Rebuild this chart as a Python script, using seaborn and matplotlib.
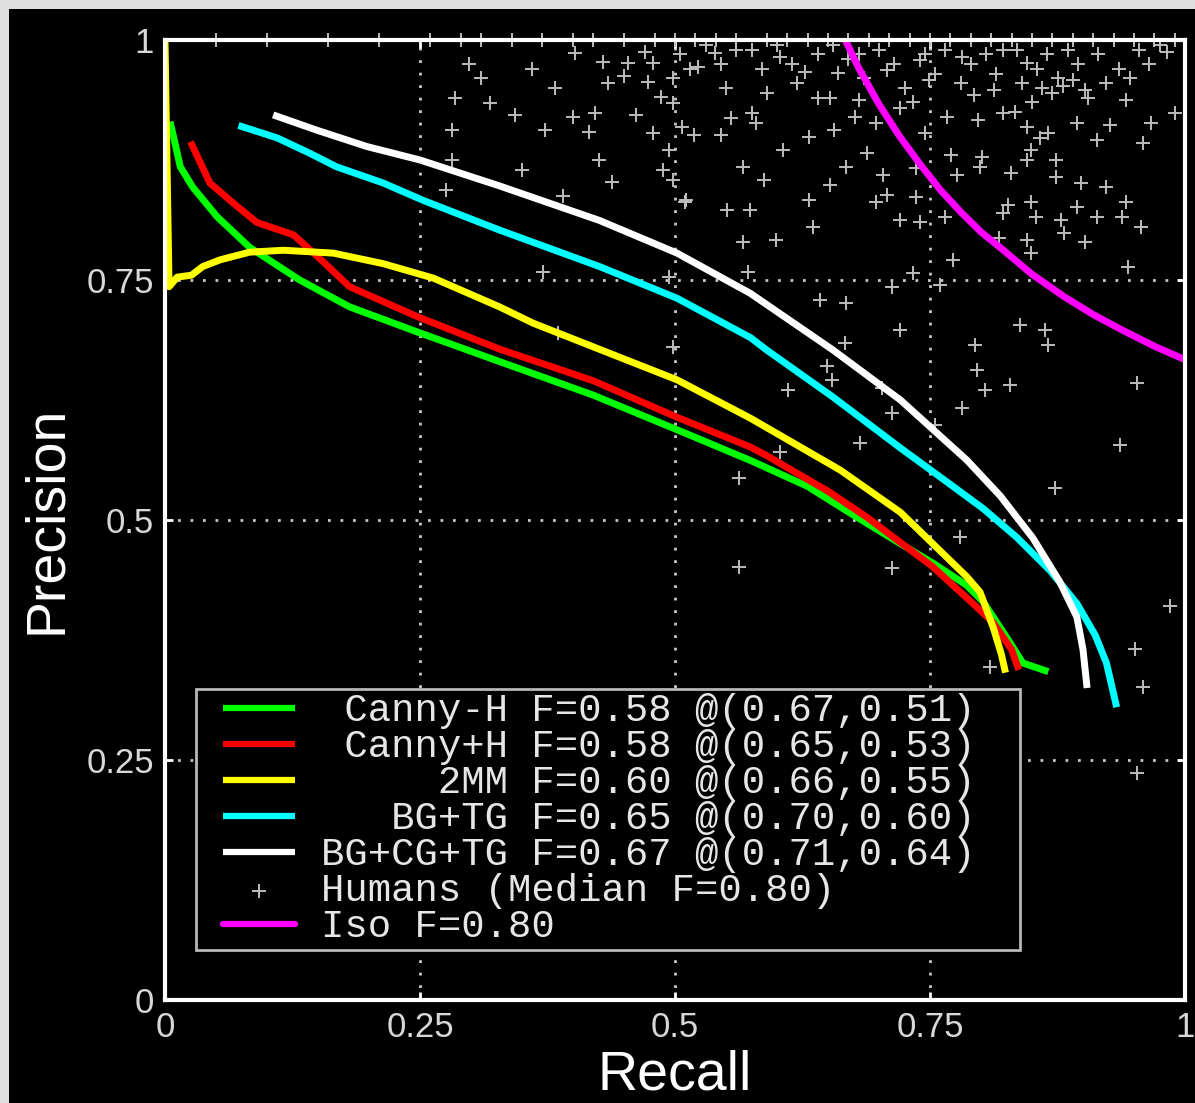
import numpy as np
import pandas as pd
import matplotlib
matplotlib.use("Agg")
import matplotlib.pyplot as plt
import seaborn as sns
from matplotlib.lines import Line2D
from matplotlib.legend_handler import HandlerLine2D
from matplotlib.patches import Rectangle

# ---------------- precision / recall curves ----------------
canny_nh_recall = [0.005, 0.015, 0.027, 0.051, 0.083, 0.132, 0.181, 0.247, 0.328, 0.420,
                   0.502, 0.574, 0.630, 0.672, 0.720, 0.753, 0.786, 0.802, 0.825, 0.841, 0.866]
canny_nh_precision = [0.915, 0.868, 0.847, 0.816, 0.784, 0.750, 0.722, 0.696, 0.665, 0.630,
                      0.594, 0.562, 0.535, 0.507, 0.476, 0.455, 0.432, 0.415, 0.378, 0.351, 0.342]

canny_h_recall = [0.025, 0.044, 0.067, 0.090, 0.126, 0.150, 0.181, 0.247, 0.328, 0.420,
                  0.502, 0.574, 0.590, 0.650, 0.688, 0.753, 0.792, 0.812, 0.830, 0.837]
canny_h_precision = [0.894, 0.851, 0.830, 0.810, 0.797, 0.774, 0.743, 0.712, 0.678, 0.645,
                     0.607, 0.576, 0.567, 0.530, 0.503, 0.451, 0.413, 0.393, 0.365, 0.344]

mm2_recall = [0.000, 0.004, 0.012, 0.026, 0.037, 0.054, 0.083, 0.116, 0.165, 0.214, 0.263,
              0.328, 0.361, 0.502, 0.574, 0.662, 0.721, 0.786, 0.799, 0.812, 0.820, 0.824]
mm2_precision = [1.000, 0.743, 0.753, 0.755, 0.764, 0.771, 0.779, 0.781, 0.778, 0.767, 0.752,
                 0.722, 0.705, 0.646, 0.606, 0.552, 0.508, 0.441, 0.425, 0.388, 0.360, 0.341]

bgtg_recall = [0.072, 0.110, 0.142, 0.168, 0.214, 0.253, 0.328, 0.426, 0.502, 0.574, 0.590,
               0.655, 0.721, 0.770, 0.802, 0.835, 0.868, 0.894, 0.912, 0.923, 0.933]
bgtg_precision = [0.911, 0.898, 0.882, 0.868, 0.851, 0.833, 0.802, 0.764, 0.731, 0.690, 0.677,
                  0.628, 0.575, 0.537, 0.512, 0.482, 0.447, 0.413, 0.380, 0.351, 0.305]

bgcgtg_recall = [0.106, 0.149, 0.198, 0.250, 0.328, 0.426, 0.502, 0.574, 0.655, 0.721,
                 0.786, 0.819, 0.851, 0.877, 0.894, 0.900, 0.904]
bgcgtg_precision = [0.922, 0.906, 0.889, 0.875, 0.848, 0.812, 0.778, 0.736, 0.677, 0.625,
                    0.5625, 0.525, 0.481, 0.436, 0.399, 0.365, 0.325]

iso_recall = [0.667, 0.680, 0.690, 0.700, 0.720, 0.740, 0.760, 0.780, 0.800, 0.822,
              0.850, 0.881, 0.910, 0.940, 0.970, 1.000]
iso_precision = [1.000, 0.971, 0.952, 0.933, 0.900, 0.871, 0.844, 0.821, 0.800, 0.781,
                 0.756, 0.733, 0.714, 0.697, 0.681, 0.667]

# ---------------- individual human subjects ----------------
human_recall = [
    # along P = 1
    0.05, 0.10, 0.16, 0.21, 0.26, 0.29, 0.31, 0.34, 0.37, 0.40, 0.42, 0.45, 0.48, 0.50,
    0.52, 0.54, 0.56, 0.59, 0.61, 0.63, 0.65, 0.67, 0.69, 0.71, 0.73, 0.75, 0.77, 0.79,
    0.81, 0.83, 0.85, 0.87, 0.89, 0.91, 0.93, 0.95, 0.97, 0.99,
    # dense band just under P = 1
    0.505, 0.515, 0.530, 0.545, 0.560, 0.585, 0.600, 0.615, 0.640, 0.655, 0.670, 0.685,
    0.700, 0.715, 0.725, 0.745, 0.755, 0.765, 0.780, 0.790, 0.805, 0.815, 0.835, 0.840,
    0.855, 0.865, 0.875, 0.885, 0.895, 0.905, 0.915, 0.935, 0.955, 0.965, 0.975, 0.680,
    0.620, 0.640, 0.550, 0.590, 0.860, 0.870, 0.880, 0.850,
    # left, sparse
    0.298, 0.284, 0.319, 0.343, 0.281, 0.373, 0.382, 0.281, 0.350, 0.390, 0.275, 0.360,
    0.310, 0.400,
    # upper band
    0.402, 0.429, 0.454, 0.478, 0.498, 0.474, 0.434, 0.450, 0.422, 0.462, 0.416, 0.478,
    0.425, 0.438, 0.486, 0.498, 0.507, 0.519, 0.494, 0.488, 0.498, 0.511, 0.545, 0.555,
    0.575, 0.579, 0.606, 0.567, 0.587, 0.574, 0.551, 0.599, 0.567, 0.631, 0.635, 0.652,
    0.668, 0.631, 0.656, 0.652, 0.680, 0.676, 0.697, 0.688, 0.704, 0.708, 0.697, 0.721,
    0.740, 0.736, 0.736, 0.721, 0.733, 0.745, 0.749, 0.765, 0.773, 0.776, 0.771, 0.767,
    0.793, 0.797, 0.801, 0.799, 0.818, 0.822, 0.826, 0.813, 0.822, 0.829, 0.833, 0.845,
    0.845, 0.849, 0.845, 0.849, 0.854, 0.866, 0.874, 0.878, 0.881, 0.874, 0.894, 0.902,
    0.898, 0.894, 0.890, 0.902, 0.914, 0.923, 0.926, 0.923, 0.938, 0.942, 0.942, 0.946,
    0.957, 0.967, 0.959, 0.944, 0.990, 0.982, 0.914, 0.858, 0.849, 0.845, 0.822, 0.781,
    0.740, 0.708, 0.660, 0.627, 0.603, 0.575, 0.539, 0.523, 0.471, 0.733, 0.713, 0.668,
    0.572, 0.494,
    # middle and lower
    0.371, 0.385, 0.498, 0.510, 0.563, 0.563, 0.603, 0.681, 0.713, 0.779, 0.809, 0.611,
    0.649, 0.654, 0.703, 0.713, 0.781, 0.796, 0.804, 0.873, 0.985, 0.951, 0.959, 0.953,
    0.936, 0.953, 0.863, 0.828, 0.755, 0.642, 0.667, 0.721, 0.760, 0.794, 0.838, 0.866,
]
human_precision = [
    1.0, 1.0, 1.0, 1.0, 1.0, 1.0, 1.0, 1.0, 1.0, 1.0, 1.0, 1.0, 1.0, 1.0,
    1.0, 1.0, 1.0, 1.0, 1.0, 1.0, 1.0, 1.0, 1.0, 1.0, 1.0, 1.0, 1.0, 1.0,
    1.0, 1.0, 1.0, 1.0, 1.0, 1.0, 1.0, 1.0, 1.0, 1.0,
    0.985, 0.970, 0.995, 0.975, 0.990, 0.970, 0.995, 0.975, 0.985, 0.995, 0.980, 0.960,
    0.990, 0.975, 0.950, 0.985, 0.965, 0.990, 0.955, 0.975, 0.985, 0.965, 0.990, 0.955,
    0.970, 0.985, 0.960, 0.990, 0.975, 0.940, 0.985, 0.970, 0.990, 0.975, 0.995, 0.985,
    0.955, 0.940, 0.950, 0.945, 0.950, 0.945, 0.952, 0.935,
    0.975, 0.940, 0.934, 0.922, 0.906, 0.906, 0.950, 0.875, 0.865, 0.838, 0.844, 0.970,
    0.960, 0.920,
    0.986, 0.977, 0.976, 0.976, 0.960, 0.956, 0.955, 0.962, 0.924, 0.922, 0.904, 0.903,
    0.875, 0.852, 0.941, 0.934, 0.909, 0.901, 0.885, 0.865, 0.854, 0.833, 0.901, 0.919,
    0.924, 0.914, 0.885, 0.868, 0.854, 0.823, 0.823, 0.792, 0.790, 0.833, 0.805, 0.849,
    0.868, 0.899, 0.906, 0.940, 0.938, 0.920, 0.914, 0.882, 0.859, 0.839, 0.831, 0.8125,
    0.810, 0.836, 0.867, 0.929, 0.935, 0.903, 0.958, 0.816, 0.771, 0.859, 0.880, 0.920,
    0.943, 0.917, 0.878, 0.868, 0.794, 0.820, 0.828, 0.948, 0.924, 0.861, 0.925, 0.909,
    0.875, 0.831, 0.792, 0.778, 0.816, 0.903, 0.857, 0.8125, 0.799, 0.875, 0.826, 0.790,
    0.851, 0.914, 0.958, 0.948, 0.816, 0.847, 0.911, 0.955, 0.816, 0.831, 0.938, 0.960,
    0.805, 0.914, 0.893, 0.764, 0.924, 0.988, 0.896, 0.898, 0.885, 0.976, 0.990, 0.982,
    0.979, 0.969, 0.966, 0.967, 0.982, 0.990, 0.986, 0.972, 0.988, 0.757, 0.743, 0.726,
    0.758, 0.753,
    0.758, 0.695, 0.680, 0.831, 0.544, 0.451, 0.571, 0.580, 0.450, 0.482, 0.347, 0.635,
    0.660, 0.646, 0.638, 0.611, 0.617, 0.656, 0.635, 0.533, 0.410, 0.366, 0.326, 0.236,
    0.578, 0.643, 0.698, 0.641, 0.599, 0.729, 0.684, 0.698, 0.745, 0.682, 0.703, 0.682,
]

labels = [
    " Canny-H F=0.58 @(0.67,0.51)",
    " Canny+H F=0.58 @(0.65,0.53)",
    "     2MM F=0.60 @(0.66,0.55)",
    "   BG+TG F=0.65 @(0.70,0.60)",
    "BG+CG+TG F=0.67 @(0.71,0.64)",
    "Humans (Median F=0.80)",
    "Iso F=0.80",
]
colors = ["#00ff00", "#ff0000", "#ffff00", "#00ffff", "#ffffff", "#bdbdbd", "#ff00ff"]

curves = [
    (canny_nh_recall, canny_nh_precision),
    (canny_h_recall, canny_h_precision),
    (mm2_recall, mm2_precision),
    (bgtg_recall, bgtg_precision),
    (bgcgtg_recall, bgcgtg_precision),
]

# ---------------- figure ----------------
sns.set_theme(style="dark")
plt.rcParams["font.family"] = ["Liberation Sans", "DejaVu Sans"]

W, H = 1195, 1103
fig = plt.figure(figsize=(W / 100, H / 100), dpi=100, facecolor="#dedede")
fig.add_artist(Rectangle((9 / W, 0), 1, 1 - 9 / H, transform=fig.transFigure,
                         facecolor="black", edgecolor="none", zorder=-10))

ax = fig.add_axes([165 / W, 103 / H, 1020 / W, 960 / H])
ax.set_facecolor("black")

sns.scatterplot(x=human_recall, y=human_precision, marker="+", s=105,
                color=colors[5], linewidth=1.4, ax=ax, label=labels[5],
                zorder=2.5, clip_on=False)

for (r, p), lab, col in zip(curves, labels[:5], colors[:5]):
    sns.lineplot(x=r, y=p, sort=False, estimator=None, color=col, lw=5,
                 label=lab, ax=ax, zorder=3, solid_capstyle="butt")

sns.lineplot(x=iso_recall, y=iso_precision, sort=False, estimator=None,
             color=colors[6], lw=5, label=labels[6], ax=ax, zorder=3)

ax.set_xlim(0, 1)
ax.set_ylim(0, 1)
ticks = [0, 0.25, 0.5, 0.75, 1]
tick_text = ["0", "0.25", "0.5", "0.75", "1"]
ax.set_xticks(ticks)
ax.set_xticklabels(tick_text)
ax.set_yticks(ticks)
ax.set_yticklabels(tick_text)
ax.tick_params(axis="both", direction="in", length=6, width=2, color="white",
               labelcolor="#d8d8d8", labelsize=25, pad=8,
               top=True, right=True, bottom=True, left=True)

ax.grid(True, color="#c8c8c8", linestyle=(0, (1, 3.5)), linewidth=2)
for s in ax.spines.values():
    s.set_visible(True)
    s.set_color("white")
    s.set_linewidth(3)
    s.set_zorder(5)

ax.set_xlabel("Recall", fontsize=40, color="white")
ax.set_ylabel("Precision", fontsize=40, color="white")
ax.xaxis.set_label_coords(0.5, -0.052)
ax.yaxis.set_label_coords(-0.09, 0.5)

handles, labs = ax.get_legend_handles_labels()
order = [labs.index(l) for l in labels]
leg = ax.legend([handles[i] for i in order], [labs[i] for i in order],
                loc="lower left", bbox_to_anchor=(0.0304, 0.052, 0.8078, 0.2),
                mode="expand", borderaxespad=0,
                prop={"family": "Liberation Mono", "size": 28},
                numpoints=2, scatterpoints=1, handlelength=3.0, handletextpad=0.1,
                borderpad=0.12, labelspacing=0.0, frameon=True, fancybox=False,
                handler_map={Line2D: HandlerLine2D(marker_pad=0.58)})
leg.get_frame().set_facecolor("black")
leg.get_frame().set_edgecolor("#b8b8b8")
leg.get_frame().set_linewidth(2)
leg.get_frame().set_alpha(1)
for t in leg.get_texts():
    t.set_color("#e6e6e6")
for h in leg.legend_handles:
    if isinstance(h, Line2D):
        h.set_linewidth(4.5)
leg.set_zorder(10)

fig.savefig("out.png", dpi=100, facecolor=fig.get_facecolor())
